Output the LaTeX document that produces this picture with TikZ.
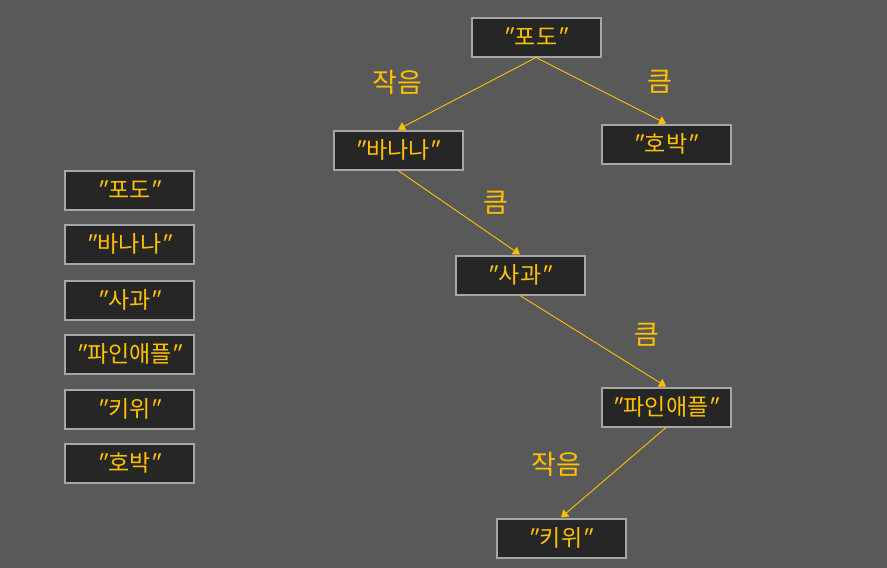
\documentclass[tikz,border=0pt]{standalone}
\usepackage{fontspec}
\setmainfont{Noto Sans CJK KR}
\newfontfamily\qfont[FakeSlant=0.3]{Noto Sans CJK KR}
\usetikzlibrary{arrows.meta}
\definecolor{bg}{HTML}{595959}
\definecolor{boxfill}{HTML}{262626}
\definecolor{boxline}{HTML}{A6A6A6}
\definecolor{txt}{HTML}{FFC000}
\newcommand{\qq}[1]{\kern-3pt{\qfont "}\kern3pt#1\kern-3pt{\qfont "}\kern3pt}
\tikzset{
  fruit/.style={draw=boxline, line width=2pt, fill=boxfill, text=txt,
    minimum width=129pt, minimum height=39pt, inner sep=0pt,
    font=\fontsize{23}{26}\selectfont},
  edge/.style={draw=txt, line width=0.9pt, -{Triangle[width=9pt,length=7pt]}},
  lbl/.style={text=txt, font=\fontsize{27}{30}\selectfont, inner sep=0pt}
}
\begin{document}
\begin{tikzpicture}[x=1pt,y=-1pt]
\fill[bg] (0,0) rectangle (887,568);
\useasboundingbox (0,0) rectangle (887,568);
% tree
\node[fruit] (podo) at (536,37) {\qq{포도}};
\node[fruit] (banana) at (398,150) {\qq{바나나}};
\node[fruit] (hobak) at (666,144) {\qq{호박}};
\node[fruit] (sagwa) at (520,275) {\qq{사과}};
\node[fruit] (pine) at (666,407) {\qq{파인애플}};
\node[fruit] (kiwi) at (561,538) {\qq{키위}};
\draw[edge] (podo.south) -- (banana.north);
\draw[edge] (podo.south) -- (hobak.north);
\draw[edge] (banana.south) -- (sagwa.north);
\draw[edge] (sagwa.south) -- (pine.north);
\draw[edge] (pine.south) -- (kiwi.north);
\node[lbl] (l1) at (397,82) {작음};
\node[lbl] (l2) at (660,82) {큼};
\node[lbl] (l3) at (496,203) {큼};
\node[lbl] (l4) at (647,335) {큼};
\node[lbl] (l5) at (556,464) {작음};
% list
\node[fruit] (a1) at (129.5,190) {\qq{포도}};
\node[fruit] (a2) at (129.5,244) {\qq{바나나}};
\node[fruit] (a3) at (129.5,300) {\qq{사과}};
\node[fruit] (a4) at (129.5,354) {\qq{파인애플}};
\node[fruit] (a5) at (129.5,409) {\qq{키위}};
\node[fruit] (a6) at (129.5,463) {\qq{호박}};
\end{tikzpicture}
\end{document}
